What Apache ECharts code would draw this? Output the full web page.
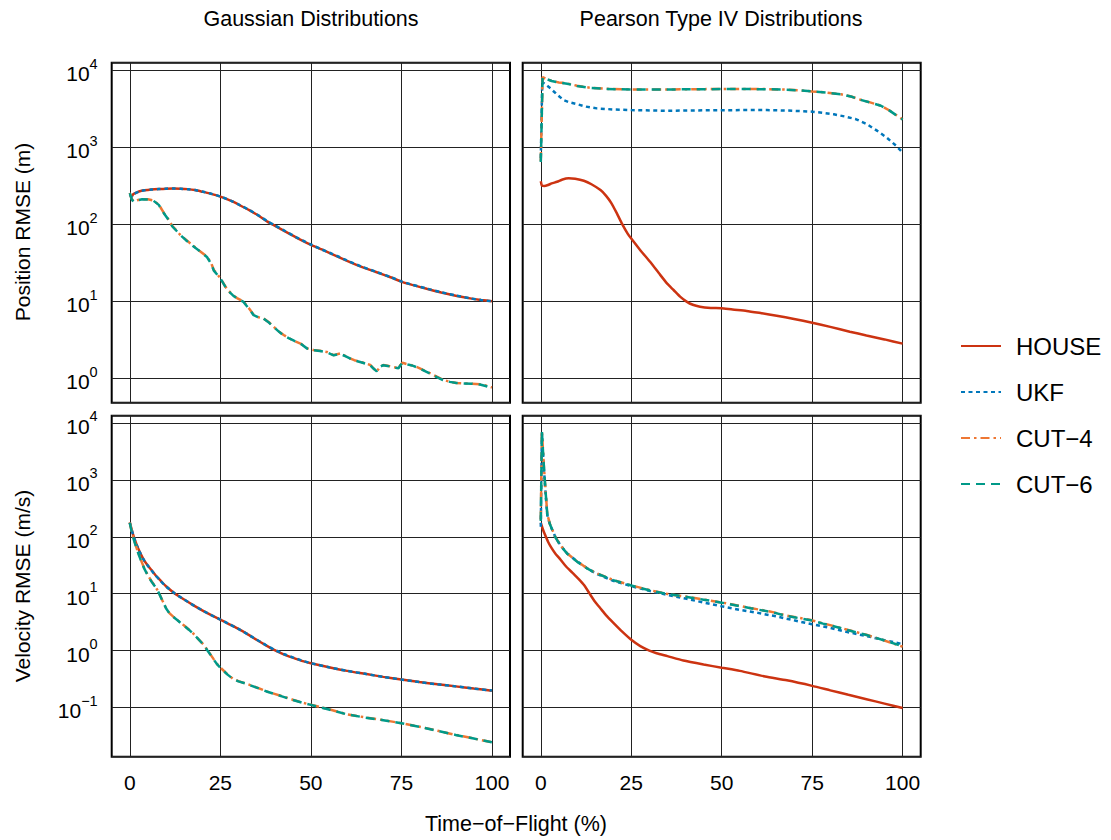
<!DOCTYPE html>
<html>
<head>
<meta charset="utf-8">
<title>RMSE vs Time-of-Flight</title>
<script src="https://cdn.jsdelivr.net/npm/echarts@6/dist/echarts.min.js"></script>
<style>
  html, body { margin: 0; padding: 0; background: #fff; }
  #chart { width: 1111px; height: 840px; }
</style>
</head>
<body>
<div id="chart"></div>
<script>
// ---- Series names and x tick labels ----
const seriesNames = ['HOUSE', 'UKF', 'CUT\u22124', 'CUT\u22126'];
const xTickLabels = [0, 25, 50, 75, 100];
const panelTitles = ['Gaussian Distributions', 'Pearson Type IV Distributions'];
const yNames = ['Position RMSE (m)', 'Velocity RMSE (m/s)'];
const xName = 'Time\u2212of\u2212Flight (%)';

// ---- Position RMSE, Gaussian: [time-of-flight %, RMSE m] ----
const posGaussHouse = [[0,232],[0.5,230],[1,246],[2,259],[3,269],[4,275],[6,282],[8,286],[10,289],[12,290],[14,289],[16,285],[18,277],[20,264],[22,251],[25,228],[28,200],[30,180],[33,152],[36,125],[38,108],[40,96],[43,80],[46,67],[50,54],[53,47],[56,40.5],[60,33.5],[64,28],[68,24],[72,20.5],[75,18],[78,16.3],[82,14.5],[86,13],[90,11.8],[94,10.9],[97,10.4],[100,10.0]];
const posGaussUkf = [[0,240],[0.5,226],[1,244],[2,258],[3,268],[4,275],[6,281],[8,286],[10,289],[12,290],[14,288],[16,284],[18,277],[20,265],[22,252],[25,229],[28,201],[30,181],[33,153],[36,126],[38,109],[40,97],[43,81],[46,67.5],[50,54.5],[53,47],[56,41],[60,33.8],[64,28.2],[68,24.1],[72,20.6],[75,18.1],[78,16.4],[82,14.6],[86,13.1],[90,11.9],[94,10.9],[97,10.4],[100,10.0]];
const posGaussCut4 = [[0,255],[0.5,215],[1,198],[2,205],[3.4,211],[5,210],[6.5,203],[8,180],[9.4,140],[10.8,113],[11.7,95],[13,82],[14,72],[15.5,63],[17.2,54],[19,46],[21.3,38],[22.5,31],[23.2,25.5],[25,20],[26.9,14.2],[28.5,12],[29.6,11],[31.4,9.9],[33,8],[34.2,6.7],[35.5,6.2],[36.9,6.0],[38.5,5.3],[39.7,4.7],[41,4.1],[42.5,3.65],[44,3.3],[45.2,3.1],[47.3,2.8],[49,2.45],[50.7,2.33],[52.5,2.28],[54.4,2.2],[56.3,2.0],[58.1,2.1],[59.5,1.95],[60.8,1.82],[62,1.72],[63.6,1.64],[65,1.57],[66.4,1.49],[67.3,1.35],[68.2,1.22],[69,1.4],[70,1.49],[71.2,1.46],[72.4,1.41],[73.4,1.38],[74.2,1.35],[74.8,1.5],[75.3,1.59],[76.8,1.52],[78.3,1.46],[79.8,1.37],[81.1,1.28],[83,1.16],[84.8,1.05],[86.5,0.96],[88.4,0.9],[90.2,0.87],[92.1,0.86],[94.5,0.85],[96.7,0.84],[98.5,0.8],[100,0.76]];
const posGaussCut6 = [[0,252],[0.5,212],[1,196],[2,204],[3.4,210],[5,209],[6.5,202],[8,178],[9.4,139],[10.8,112],[11.7,94],[13,81],[14,72],[15.5,62],[17.2,53],[19,46],[21.3,37.5],[22.5,30.5],[23.2,25],[25,19.8],[26.9,14],[28.5,11.9],[29.6,10.9],[31.4,9.8],[33,7.9],[34.2,6.6],[35.5,6.2],[36.9,5.95],[38.5,5.25],[39.7,4.65],[41,4.1],[42.5,3.6],[44,3.3],[45.2,3.1],[47.3,2.78],[49,2.43],[50.7,2.32],[52.5,2.27],[54.4,2.18],[56.3,1.99],[58.1,2.08],[59.5,1.94],[60.8,1.81],[62,1.71],[63.6,1.63],[65,1.56],[66.4,1.48],[67.3,1.34],[68.2,1.23],[69,1.4],[70,1.48],[71.2,1.45],[72.4,1.4],[73.4,1.37],[74.2,1.35],[74.8,1.49],[75.3,1.58],[76.8,1.51],[78.3,1.45],[79.8,1.36],[81.1,1.27],[83,1.15],[84.8,1.04],[86.5,0.95],[88.4,0.9],[90.2,0.87],[92.1,0.86],[94.5,0.85],[96.7,0.83],[98.5,0.79],[100,0.74]];

// ---- Position RMSE, Pearson Type IV ----
const posPearsonHouse = [[0,360],[0.3,318],[1,312],[2,322],[3,338],[4.5,355],[6,380],[7.7,393],[9.5,388],[11.9,366],[14,330],[16.5,277],[18,235],[19.5,188],[21,139],[22.5,100],[24,75.5],[25,65],[27.5,46],[30.2,32.5],[33,22],[35,16.8],[36.7,14],[38.5,11.5],[40.3,9.9],[42,9.0],[44,8.5],[47,8.2],[49.9,8.1],[53,7.8],[56.9,7.5],[61,7.0],[65.2,6.5],[70,5.9],[75,5.26],[80,4.65],[85.4,4.03],[90,3.6],[95,3.2],[100,2.82]];
const posPearsonUkf = [[0,720],[0.4,7000],[1.5,6400],[2.7,5760],[4.5,4800],[6.3,4070],[8,3800],[10,3610],[12.5,3350],[15.5,3180],[20,3080],[25,3020],[35,2960],[45,3000],[55,3020],[62.5,3020],[68,2980],[72,2930],[75,2880],[78,2780],[81,2660],[84,2500],[87,2310],[90,2000],[92.7,1660],[95.5,1340],[98.2,1040],[100,850]];
const posPearsonCut4 = [[0,660],[0.5,8100],[1.5,7700],[3,7250],[5,6900],[7.3,6700],[10,6250],[13.7,5890],[18,5700],[25,5600],[35,5600],[45,5650],[55,5680],[62.5,5650],[67,5580],[71,5480],[75,5280],[79,5100],[83,4850],[86,4500],[88,4160],[91,3800],[94,3450],[96.5,2960],[98,2650],[100,2300]];
const posPearsonCut6 = [[0,640],[0.5,8000],[1.5,7650],[3,7200],[5,6850],[7.3,6650],[10,6200],[13.7,5870],[18,5690],[25,5590],[35,5590],[45,5640],[55,5670],[62.5,5640],[67,5570],[71,5470],[75,5270],[79,5090],[83,4840],[86,4490],[88,4150],[91,3790],[94,3440],[96.5,2950],[98,2640],[100,2280]];

// ---- Velocity RMSE, Gaussian ----
const velGaussHouse = [[0,178],[0.5,135],[1,105],[2,70],[3,50],[4,38],[5,31],[6,26],[7,21.5],[8.5,17],[10,13.5],[12.5,10],[15,7.9],[17.5,6.3],[20,5.1],[22.5,4.2],[25,3.5],[27.5,2.9],[30,2.4],[32.5,1.95],[35,1.55],[37.5,1.25],[40,1.02],[42.5,0.86],[45,0.75],[47.5,0.66],[50,0.6],[55,0.51],[60,0.44],[65,0.39],[70,0.345],[75,0.31],[80,0.28],[85,0.255],[90,0.235],[95,0.215],[100,0.197]];
const velGaussUkf = [[0,176],[0.5,133],[1,104],[2,69],[3,50],[4,38],[5,31],[6,25.5],[7,21.3],[8.5,16.8],[10,13.4],[12.5,10],[15,7.9],[17.5,6.3],[20,5.1],[22.5,4.2],[25,3.5],[27.5,2.9],[30,2.4],[32.5,1.95],[35,1.56],[37.5,1.26],[40,1.03],[42.5,0.87],[45,0.76],[47.5,0.67],[50,0.6],[55,0.51],[60,0.44],[65,0.39],[70,0.345],[75,0.31],[80,0.28],[85,0.255],[90,0.235],[95,0.215],[100,0.198]];
const velGaussCut4 = [[0,178],[0.5,125],[1,95],[2,60],[3,40],[4,28],[5,21],[6,16.5],[7,13.5],[8,10.5],[9,7.6],[10,5.6],[11,4.5],[12,3.95],[13,3.5],[14,3.1],[15,2.75],[16.3,2.35],[17.5,2.0],[19,1.58],[20.5,1.25],[21.5,1.0],[22.3,0.85],[23.2,0.7],[24.2,0.57],[25.5,0.47],[27,0.38],[28.5,0.32],[30,0.29],[32,0.265],[35,0.225],[38,0.19],[42,0.158],[45,0.137],[48,0.12],[50,0.112],[55,0.093],[60,0.076],[65,0.067],[70,0.06],[75,0.053],[80,0.046],[85,0.039],[90,0.033],[95,0.0285],[100,0.0245]];
const velGaussCut6 = [[0,176],[0.5,124],[1,94],[2,59],[3,39.5],[4,27.5],[5,20.8],[6,16.3],[7,13.3],[8,10.4],[9,7.5],[10,5.55],[11,4.45],[12,3.9],[13,3.48],[14,3.08],[15,2.73],[16.3,2.33],[17.5,1.98],[19,1.57],[20.5,1.24],[21.5,0.99],[22.3,0.84],[23.2,0.69],[24.2,0.565],[25.5,0.465],[27,0.378],[28.5,0.318],[30,0.288],[32,0.263],[35,0.224],[38,0.189],[42,0.157],[45,0.136],[48,0.119],[50,0.111],[55,0.092],[60,0.0755],[65,0.0665],[70,0.0598],[75,0.0528],[80,0.0458],[85,0.0388],[90,0.0329],[95,0.0284],[100,0.0244]];

// ---- Velocity RMSE, Pearson Type IV ----
const velPearsonHouse = [[0,175],[0.5,140],[1,115],[2,82],[3,63],[4,51],[5,43],[7,30],[9,22.5],[10.5,18],[12,14],[13.5,10],[15,7.2],[16.5,5.5],[18,4.2],[20,3.1],[22.5,2.15],[25,1.55],[27.5,1.2],[30,1.0],[32,0.9],[35,0.8],[39.4,0.67],[45,0.57],[50,0.5],[55,0.44],[62,0.35],[68,0.3],[75,0.24],[80,0.2],[85,0.167],[90,0.14],[95,0.117],[100,0.098]];
const velPearsonUkf = [[0,150],[0.3,6500],[0.8,1800],[1.3,600],[1.8,240],[2.5,165],[4,100],[5.5,70],[7.3,51],[10,37],[12.8,28],[15,23],[20,16.8],[25,13.6],[30,11.2],[35,9.5],[40,8.2],[45,7.0],[50,6.0],[55,5.2],[60,4.6],[65,4.0],[70,3.4],[75,2.9],[80,2.5],[85,2.1],[90,1.8],[95,1.52],[100,1.3]];
const velPearsonCut4 = [[0,200],[0.3,7300],[0.8,2000],[1.3,665],[1.8,250],[2.5,170],[4,100],[5.5,70],[7.3,51],[10,37],[12.8,28],[15,23.5],[20,17.4],[25,14],[30,11.6],[35,9.9],[40,8.9],[45,7.9],[50,7.0],[55,6.1],[58,5.6],[60,5.3],[63,4.9],[65,4.6],[68,4.1],[70,3.9],[75,3.4],[78,3.0],[80,2.8],[85,2.3],[90,1.9],[95,1.5],[100,1.17]];
const velPearsonCut6 = [[0,190],[0.3,7100],[0.8,1950],[1.3,650],[1.8,245],[2.5,168],[4,99],[5.5,69],[7.3,50.5],[10,36.6],[12.8,27.8],[15,23.3],[20,17.3],[25,13.9],[30,11.5],[35,9.85],[40,8.85],[45,7.85],[50,6.95],[55,6.05],[58,5.55],[60,5.25],[63,4.85],[65,4.55],[68,4.05],[70,3.85],[75,3.38],[78,2.98],[80,2.78],[85,2.28],[90,1.88],[95,1.5],[100,1.2]];

const panelData = [
  [posGaussHouse, posGaussUkf, posGaussCut4, posGaussCut6],
  [posPearsonHouse, posPearsonUkf, posPearsonCut4, posPearsonCut6],
  [velGaussHouse, velGaussUkf, velGaussCut4, velGaussCut6],
  [velPearsonHouse, velPearsonUkf, velPearsonCut4, velPearsonCut6]
];

// ---- Styling ----
const FONT = "'Liberation Sans', Arial, Helvetica, sans-serif";
const colors = ['#CC3311', '#0077BB', '#EE7733', '#009988'];
const dashes = ['solid', [4, 3.5], [9, 4, 2.5, 4], [9, 6]];
const smoothFor = [[0.2, 0.2, false, false], [0.2, false, false, false], [0.2, 0.2, false, false], [0.2, false, false, false]];

const grids = [
  { left: 111.7, top: 62.7, width: 398.3, height: 340 },
  { left: 522.7, top: 62.7, width: 398, height: 340 },
  { left: 111.7, top: 415.7, width: 398.3, height: 341 },
  { left: 522.7, top: 415.7, width: 398, height: 341 }
];
const yRanges = [
  [Math.pow(10, -0.316), Math.pow(10, 4.095)],
  [Math.pow(10, -0.316), Math.pow(10, 4.095)],
  [Math.pow(10, -1.865), Math.pow(10, 4.128)],
  [Math.pow(10, -1.865), Math.pow(10, 4.128)]
];

function powerLabel(v) {
  const e = Math.log10(v);
  const r = Math.round(e);
  if (Math.abs(e - r) > 1e-6) return '';
  const exp = r < 0 ? '\u2212' + (-r) : String(r);
  return '{b|10}{s|' + exp + '}';
}
function xLabel(v) {
  const r = Math.round(v);
  return xTickLabels.indexOf(r) >= 0 && Math.abs(v - r) < 1e-6 ? String(r) : '';
}

const gridLine = '#222';
const clear = 'rgba(0,0,0,0)';
const textStyleOf = size => ({ font: size + 'px ' + FONT, fill: '#000', textAlign: 'center', textVerticalAlign: 'middle' });

const option = {
  animation: false,
  backgroundColor: '#fff',
  grid: grids.map(g => Object.assign({
    show: true, borderColor: '#000', borderWidth: 2, backgroundColor: 'transparent',
    containLabel: false, outerBoundsMode: 'none'
  }, g)),
  xAxis: grids.map((g, i) => ({
    type: 'value', gridIndex: i, min: -5, max: 105, interval: 5,
    axisLine: { show: false }, axisTick: { show: false },
    axisLabel: {
      show: i >= 2, formatter: xLabel, margin: 15, color: '#000',
      fontSize: 21, fontFamily: FONT, hideOverlap: false
    },
    splitLine: {
      show: true,
      lineStyle: { color: [clear, gridLine, clear, clear, clear], width: 1 }
    }
  })),
  yAxis: grids.map((g, i) => ({
    type: 'log', logBase: 10, gridIndex: i, min: yRanges[i][0], max: yRanges[i][1],
    axisLine: { show: false }, axisTick: { show: false },
    axisLabel: {
      show: i % 2 === 0, formatter: powerLabel, margin: 14, color: '#000',
      showMinLabel: true, showMaxLabel: true,
      rich: {
        b: { fontSize: 21, fontFamily: FONT, color: '#000', lineHeight: 28, verticalAlign: 'bottom' },
        s: { fontSize: 14.5, fontFamily: FONT, color: '#000', lineHeight: 14, verticalAlign: 'top' }
      }
    },
    splitLine: { show: true, lineStyle: { color: gridLine, width: 1 } }
  })),
  legend: {
    orient: 'vertical', left: 960, top: 334, padding: 0,
    itemWidth: 40, itemHeight: 14, itemGap: 22,
    data: seriesNames,
    itemStyle: { opacity: 0 },
    textStyle: { fontSize: 24, fontFamily: FONT, color: '#000', padding: [0, 0, 0, 10] },
    inactiveColor: '#ccc'
  },
  graphic: [
    { type: 'text', x: 311, y: 19, style: Object.assign({ text: panelTitles[0] }, textStyleOf(21.5)) },
    { type: 'text', x: 721, y: 19, style: Object.assign({ text: panelTitles[1] }, textStyleOf(21.5)) },
    { type: 'text', x: 516, y: 824, style: Object.assign({ text: xName }, textStyleOf(21.5)) },
    { type: 'text', x: 22, y: 232, rotation: Math.PI / 2, style: Object.assign({ text: yNames[0] }, textStyleOf(21)) },
    { type: 'text', x: 22, y: 586, rotation: Math.PI / 2, style: Object.assign({ text: yNames[1] }, textStyleOf(21)) }
  ],
  series: []
};

panelData.forEach((panel, p) => {
  panel.forEach((data, k) => {
    option.series.push({
      name: seriesNames[k], type: 'line', xAxisIndex: p, yAxisIndex: p,
      data: data, showSymbol: false, symbol: 'none',
      smooth: smoothFor[p][k],
      color: colors[k],
      itemStyle: { color: colors[k], opacity: 0 },
      lineStyle: { color: colors[k], width: 2.5, type: dashes[k], cap: 'butt' },
      z: 2 + k
    });
  });
});

const chart = echarts.init(document.getElementById('chart'), null, { renderer: 'svg' });
chart.setOption(option);
</script>
</body>
</html>
